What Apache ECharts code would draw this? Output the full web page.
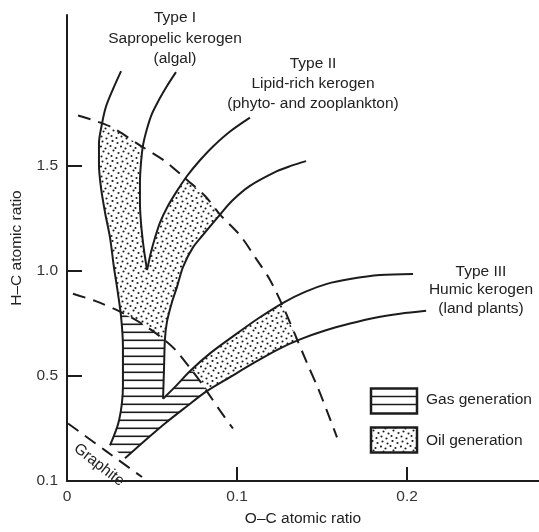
<!DOCTYPE html>
<html>
<head>
<meta charset="utf-8">
<title>Van Krevelen diagram</title>
<script src="https://cdn.jsdelivr.net/npm/echarts@6/dist/echarts.min.js"></script>
<style>
  html, body { margin: 0; padding: 0; background: #fff; }
  #chart { width: 539px; height: 532px; }
</style>
</head>
<body>
<div id="chart"></div>
<script>
// Kerogen evolution paths, [O/C, H/C] pairs
const typeI_outer = [
  [0.0318, 1.953], [0.0271, 1.868], [0.0229, 1.783], [0.0206, 1.703], [0.0188, 1.608],
  [0.0188, 1.505], [0.0200, 1.396], [0.0224, 1.278], [0.0253, 1.160], [0.0276, 1.019],
  [0.0300, 0.892], [0.0318, 0.783], [0.0329, 0.642], [0.0329, 0.453], [0.0306, 0.288],
  [0.0253, 0.170]
];
const typeI_inner = [
  [0.0641, 1.948], [0.0588, 1.882], [0.0541, 1.816], [0.0500, 1.750], [0.0471, 1.679],
  [0.0447, 1.599], [0.0435, 1.514], [0.0429, 1.420], [0.0429, 1.325], [0.0435, 1.231],
  [0.0447, 1.137], [0.0459, 1.066], [0.0471, 1.005]
];
const typeII_inner = [
  [0.0471, 1.005], [0.0494, 1.090], [0.0518, 1.160], [0.0547, 1.231], [0.0588, 1.302],
  [0.0647, 1.382], [0.0706, 1.453], [0.0782, 1.528], [0.0859, 1.594], [0.0959, 1.665],
  [0.1076, 1.731]
];
const typeII_outer = [
  [0.1406, 1.524], [0.1312, 1.500], [0.1235, 1.476], [0.1076, 1.406], [0.0971, 1.335],
  [0.0900, 1.269], [0.0812, 1.184], [0.0741, 1.113], [0.0682, 1.019], [0.0647, 0.925],
  [0.0618, 0.854], [0.0588, 0.759], [0.0576, 0.675], [0.0571, 0.547], [0.0565, 0.392]
];
const typeIII_upper = [
  [0.0565, 0.392], [0.0641, 0.453], [0.0724, 0.524], [0.0841, 0.608], [0.0976, 0.689],
  [0.1124, 0.774], [0.1271, 0.849], [0.1400, 0.901], [0.1529, 0.939], [0.1665, 0.962],
  [0.1841, 0.981], [0.2035, 0.986]
];
const typeIII_lower = [
  [0.0341, 0.108], [0.0459, 0.193], [0.0576, 0.274], [0.0694, 0.349], [0.0824, 0.429],
  [0.0959, 0.495], [0.1106, 0.566], [0.1253, 0.632], [0.1371, 0.675], [0.1518, 0.717],
  [0.1665, 0.750], [0.1812, 0.778], [0.1959, 0.797], [0.2112, 0.811]
];

// Maturity boundaries (dashed)
const oilWindowStart = [
  [0.0065, 1.741], [0.0253, 1.689], [0.0429, 1.599], [0.0576, 1.524], [0.0706, 1.434],
  [0.0812, 1.358], [0.0900, 1.269], [0.1018, 1.170], [0.1118, 1.052], [0.1194, 0.958],
  [0.1271, 0.830], [0.1341, 0.698], [0.1412, 0.561], [0.1476, 0.443], [0.1535, 0.321],
  [0.1588, 0.208]
];
const gasWindowStart = [
  [0.0035, 0.892], [0.0165, 0.858], [0.0312, 0.807], [0.0429, 0.755], [0.0547, 0.689],
  [0.0635, 0.627], [0.0724, 0.538], [0.0782, 0.476], [0.0829, 0.420], [0.0900, 0.335],
  [0.0976, 0.250]
];
const graphiteLine = [[0.0006, 0.274], [0.0224, 0.146], [0.0441, 0.019]];

// Axis labelling
const xLabelValues = [0, 0.1, 0.2];
const xTickValues = [0.1, 0.2];
const yLabelValues = [0, 0.5, 1.0, 1.5];
const yTickValues = [0.5, 1.0, 1.5];
const yLabelText = { 0: '0.1', 0.5: '0.5', 1: '1.0', 1.5: '1.5' };

const typeLabels = [
  ['Type I', 'Sapropelic kerogen', '(algal)'],
  ['Type II', 'Lipid-rich kerogen', '(phyto- and zooplankton)'],
  ['Type III', 'Humic kerogen', '(land plants)']
];
const legendNames = ['Gas generation', 'Oil generation'];

// ---------- polyline geometry for the shaded zones ----------
function segHit(a, b, c, d) {
  const rx = b[0] - a[0], ry = b[1] - a[1];
  const sx = d[0] - c[0], sy = d[1] - c[1];
  const den = rx * sy - ry * sx;
  if (Math.abs(den) < 1e-14) return null;
  const qx = c[0] - a[0], qy = c[1] - a[1];
  const t = (qx * sy - qy * sx) / den;
  const u = (qx * ry - qy * rx) / den;
  const e = 1e-9;
  return (t >= -e && t <= 1 + e && u >= -e && u <= 1 + e) ? t : null;
}
// position along p (segment index + fraction) where it meets q
function crossAt(p, q) {
  for (let i = 0; i < p.length - 1; i++) {
    for (let j = 0; j < q.length - 1; j++) {
      const t = segHit(p[i], p[i + 1], q[j], q[j + 1]);
      if (t !== null) return i + Math.min(Math.max(t, 0), 1);
    }
  }
  return null;
}
function pointAt(p, s) {
  const i = Math.min(Math.floor(s), p.length - 2);
  const t = s - i;
  return [p[i][0] + (p[i + 1][0] - p[i][0]) * t, p[i][1] + (p[i + 1][1] - p[i][1]) * t];
}
function piece(p, s0, s1) {
  const out = [pointAt(p, s0)];
  if (s0 < s1) {
    for (let i = Math.floor(s0) + 1; i < s1; i++) out.push(p[i]);
  } else {
    for (let i = Math.ceil(s0) - 1; i > s1; i--) out.push(p[i]);
  }
  out.push(pointAt(p, s1));
  return out;
}

const A = typeI_outer, B = typeI_inner, C = typeII_inner, D = typeII_outer;
const E = typeIII_upper, F = typeIII_lower, O = oilWindowStart, G = gasWindowStart;

const A1 = crossAt(A, O), A2 = crossAt(A, G);
const B1 = crossAt(B, O), C1 = crossAt(C, O);
const D1 = crossAt(D, O), D2 = crossAt(D, G);
const E1 = crossAt(E, O), E2 = crossAt(E, G);
const F1 = crossAt(F, O), F2 = crossAt(F, G);
const oA = crossAt(O, A), oB = crossAt(O, B), oC = crossAt(O, C), oD = crossAt(O, D);
const oE = crossAt(O, E), oF = crossAt(O, F);
const gA = crossAt(G, A), gD = crossAt(G, D), gE = crossAt(G, E), gF = crossAt(G, F);

const oilZoneUpper = [].concat(
  piece(A, A1, A2), piece(G, gA, gD), piece(D, D2, D1), piece(O, oD, oC),
  piece(C, C1, 0), piece(B, B.length - 1, B1), piece(O, oB, oA)
);
const oilZoneHumic = [].concat(
  piece(E, E2, E1), piece(O, oE, oF), piece(F, F1, F2), piece(G, gF, gE)
);
const gasZone = [].concat(
  piece(A, A2, A.length - 1), piece(F, 0, F2), piece(G, gF, gE),
  piece(E, E2, 0), piece(D, D.length - 1, D2), piece(G, gD, gA)
);

// ---------- fill patterns ----------
const INK = '#1c1c1c';
function dotPattern() {
  const c = document.createElement('canvas');
  c.width = 20; c.height = 20;
  const g = c.getContext('2d');
  g.fillStyle = INK;
  const pts = [[2, 1], [7, 3], [12, 0.5], [17, 2.5], [0.5, 6], [5, 8], [10, 5.5], [15, 7.5],
               [3, 11], [8, 13], [13, 10], [18, 12.5], [1, 16], [6, 18], [11, 15.5], [16, 17.5]];
  pts.forEach(([x, y]) => { g.beginPath(); g.arc(x + 0.5, y + 0.5, 1.05, 0, Math.PI * 2); g.fill(); });
  return { image: c, repeat: 'repeat' };
}
function hatchPattern() {
  const c = document.createElement('canvas');
  c.width = 8; c.height = 8;
  const g = c.getContext('2d');
  g.fillStyle = INK;
  g.fillRect(0, 3.5, 8, 1.6);
  return { image: c, repeat: 'repeat' };
}
const dots = dotPattern();
const hatch = hatchPattern();

const zones = [
  { pts: oilZoneUpper, fill: dots },
  { pts: oilZoneHumic, fill: dots },
  { pts: gasZone, fill: hatch }
];

const FONT = '15.5px "Liberation Sans", Arial, sans-serif';
function solid(data) {
  return {
    type: 'line', data, smooth: 0.3, showSymbol: false, silent: true, z: 4,
    lineStyle: { color: INK, width: 2 }
  };
}
function dashed(data) {
  return {
    type: 'line', data, smooth: 0.3, showSymbol: false, silent: true, z: 4,
    lineStyle: { color: INK, width: 2, type: [13, 8] }
  };
}
function textAt(text, x, y, align, rotation) {
  return {
    type: 'text', x, y, rotation: rotation || 0, silent: true, z: 10,
    style: { text, font: FONT, fill: '#222', textAlign: align || 'center', textVerticalAlign: 'middle' }
  };
}

const chart = echarts.init(document.getElementById('chart'), null, { renderer: 'canvas' });
chart.setOption({
  animation: false,
  backgroundColor: '#fff',
  grid: { left: 67, right: 0, top: 15, bottom: 46 },
  xAxis: {
    type: 'value', min: 0, max: 0.2776,
    name: 'O–C atomic ratio', nameLocation: 'middle', nameGap: 30,
    nameTextStyle: { color: '#222', fontSize: 15.5, fontFamily: 'Liberation Sans' },
    axisLine: { lineStyle: { color: INK, width: 2 } },
    axisTick: { inside: true, length: 14, customValues: xTickValues, lineStyle: { color: INK, width: 2 } },
    axisLabel: {
      customValues: xLabelValues, margin: 8, color: '#333', fontSize: 15.5, fontFamily: 'Liberation Sans',
      formatter: v => (v === 0 ? '0' : v.toFixed(1))
    },
    splitLine: { show: false }
  },
  yAxis: {
    type: 'value', min: 0, max: 2.22,
    name: 'H–C atomic ratio', nameLocation: 'middle', nameGap: 42,
    nameTextStyle: { color: '#222', fontSize: 15.5, fontFamily: 'Liberation Sans' },
    axisLine: { lineStyle: { color: INK, width: 2 } },
    axisTick: { inside: true, length: 15, customValues: yTickValues, lineStyle: { color: INK, width: 2 } },
    axisLabel: {
      customValues: yLabelValues, margin: 9, color: '#333', fontSize: 15.5, fontFamily: 'Liberation Sans',
      formatter: v => yLabelText[v] !== undefined ? yLabelText[v] : v.toFixed(1)
    },
    splitLine: { show: false }
  },
  series: [
    {
      type: 'custom', coordinateSystem: 'cartesian2d', silent: true, z: 1,
      data: zones.map((z, i) => [i, 0]),
      renderItem: (params, api) => {
        const zn = zones[params.dataIndex];
        return {
          type: 'polygon',
          shape: { points: zn.pts.map(p => api.coord(p)) },
          style: { fill: zn.fill, stroke: null }
        };
      }
    },
    solid(typeI_outer), solid(typeI_inner), solid(typeII_inner), solid(typeII_outer),
    solid(typeIII_upper), solid(typeIII_lower),
    dashed(oilWindowStart), dashed(gasWindowStart), dashed(graphiteLine)
  ],
  graphic: [
    textAt(typeLabels[0][0], 175, 18), textAt(typeLabels[0][1], 175, 38.5), textAt(typeLabels[0][2], 175, 59),
    textAt(typeLabels[1][0], 313, 64), textAt(typeLabels[1][1], 313, 84), textAt(typeLabels[1][2], 313, 104),
    textAt(typeLabels[2][0], 481, 272), textAt(typeLabels[2][1], 481, 290), textAt(typeLabels[2][2], 481, 309),
    textAt('Graphite', 99, 465, 'center', -38 * Math.PI / 180),
    // legend: gas
    { type: 'rect', z: 10, shape: { x: 371, y: 388.5, width: 46, height: 25 },
      style: { fill: '#fff', stroke: INK, lineWidth: 2.5 } },
    { type: 'line', z: 10, shape: { x1: 371, y1: 396.5, x2: 417, y2: 396.5 }, style: { stroke: INK, lineWidth: 1.5 } },
    { type: 'line', z: 10, shape: { x1: 371, y1: 404.5, x2: 417, y2: 404.5 }, style: { stroke: INK, lineWidth: 1.5 } },
    textAt(legendNames[0], 426, 400, 'left'),
    // legend: oil
    { type: 'rect', z: 10, shape: { x: 371, y: 427.5, width: 46, height: 25 },
      style: { fill: dots, stroke: INK, lineWidth: 2.5 } },
    textAt(legendNames[1], 426, 441, 'left')
  ]
});
</script>
</body>
</html>
